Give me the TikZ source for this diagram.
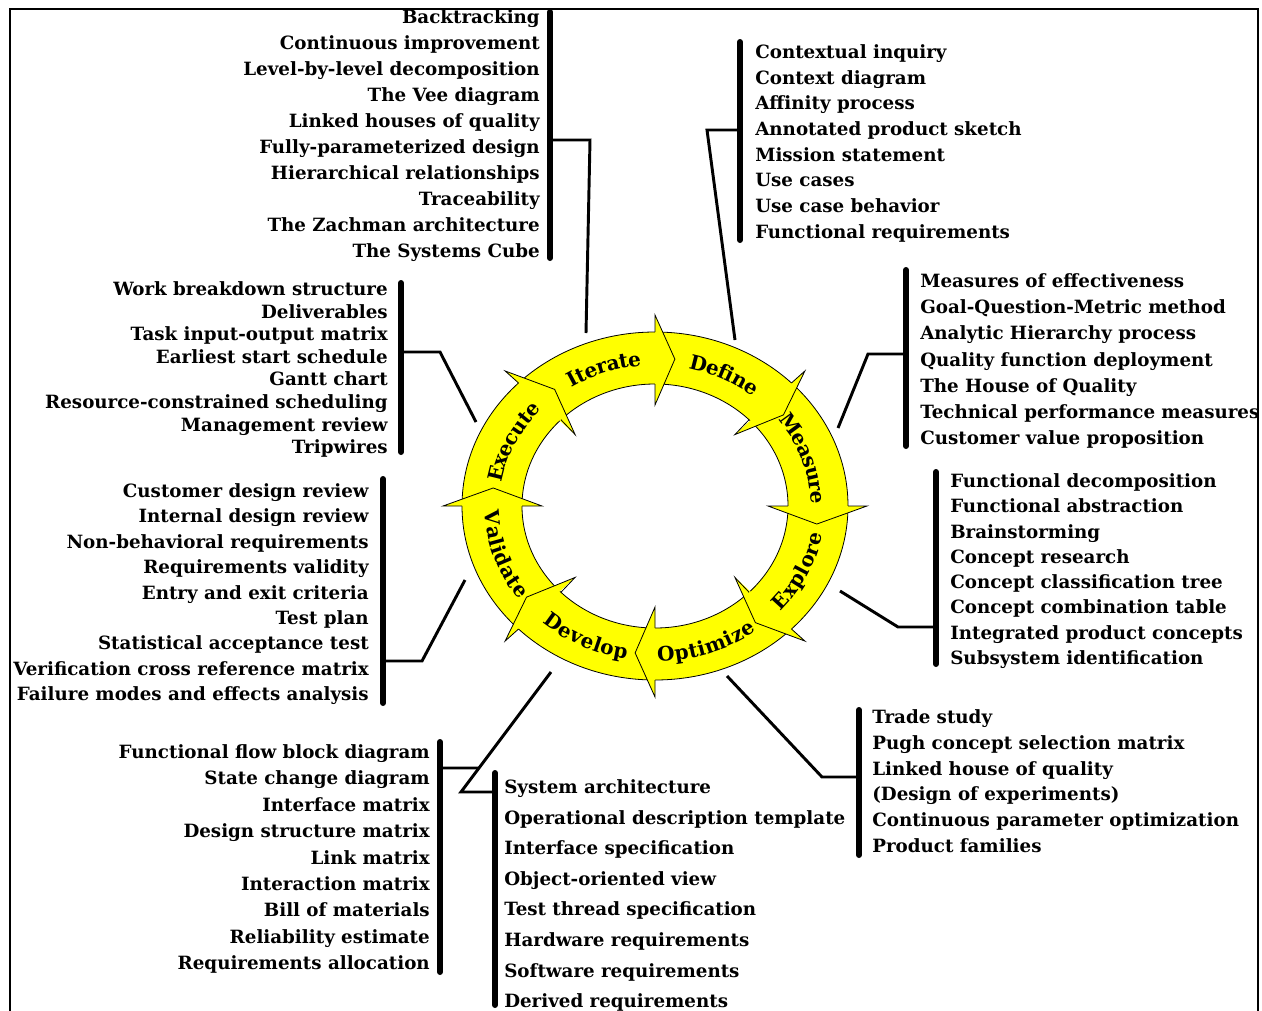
\documentclass[tikz,border=0pt]{standalone}
\usepackage{fontspec}
\setmainfont{DejaVu Serif}
\usetikzlibrary{decorations.text, calc}

\definecolor{ringyellow}{HTML}{FFFF00}
\newcommand{\ringfont}{\fontsize{15}{17}\selectfont\bfseries}
\tikzset{
  tool/.style={font=\fontsize{13.7}{16}\selectfont\bfseries, inner sep=0pt},
  bar/.style={line width=4.5pt, line cap=round},
  link/.style={line width=2.2pt},
  ringline/.style={line width=0.6pt}
}
% one column of tools: prefix, x, first y, step, anchor, items
\newcommand{\toolgroup}[6]{%
  \foreach \t [count=\k] in {#6}
    \node[tool, anchor=#5] (#1\k) at (#2, {-(#3)-(\k-1)*(#4)}) {\t};
}
% label along the ring: text, start angle, end angle
\newcommand{\ringlabel}[3]{%
  \path[decorate, decoration={text along path, text align=center, raise=-5.5pt,
    text={|\ringfont|#1}}]
    (#2:163 and 148) arc[start angle=#2, end angle=#3, x radius=163, y radius=148];
}

\begin{document}
\begin{tikzpicture}[x=0.75pt, y=0.75pt]
  \useasboundingbox (0,0) rectangle (1262,-1010);
  \draw[line width=1.5pt] (10,-1015) -- (10,-9) -- (1258,-9) -- (1258,-1015);

  % the ring
  \begin{scope}[shift={(655,-506)}]
    \filldraw[ringline, fill=ringyellow, even odd rule]
      (0,0) ellipse[x radius=193, y radius=174]
      (0,0) ellipse[x radius=133, y radius=122];
    \foreach \a in {90,45,0,-45,-90,-135,-180,-225} {
      \fill[ringyellow] (\a:212 and 191) -- ({\a-7}:163 and 148) -- (\a:113 and 101) -- cycle;
      \draw[ringline] (\a:193 and 174) -- (\a:212 and 191) -- ({\a-7}:163 and 148)
        -- (\a:113 and 101) -- (\a:133 and 122);
    }
    \ringlabel{Iterate}{139}{79}
    \ringlabel{Define}{94}{34}
    \ringlabel{Measure}{49}{-11}
    \ringlabel{Explore}{-56}{4}
    \ringlabel{Optimize}{-101}{-41}
    \ringlabel{Develop}{-146}{-86}
    \ringlabel{Validate}{-191}{-131}
    \ringlabel{Execute}{184}{124}
  \end{scope}

  % Iterate
  \toolgroup{it}{540}{20}{26}{mid east}{Backtracking, Continuous improvement,
    Level-by-level decomposition, The Vee diagram, Linked houses of quality,
    Fully-parameterized design, Hierarchical relationships, Traceability,
    The Zachman architecture, The Systems Cube}
  \draw[bar] (550,-12) -- (550,-258);
  \coordinate (it-j) at (550,-140);
  \coordinate (it-r) at (586,-333);
  \draw[link] (it-j) -- (590,-140) -- (it-r);

  % Define
  \toolgroup{def}{755}{55}{25.7}{mid west}{Contextual inquiry, Context diagram,
    Affinity process, Annotated product sketch, Mission statement, Use cases,
    Use case behavior, Functional requirements}
  \draw[bar] (740,-42) -- (740,-240);
  \coordinate (def-j) at (740,-130);
  \coordinate (def-r) at (735,-340);
  \draw[link] (def-j) -- (707,-130) -- (def-r);

  % Measure
  \toolgroup{mea}{920}{284}{26.2}{mid west}{Measures of effectiveness,
    Goal-Question-Metric method, Analytic Hierarchy process,
    Quality function deployment, The House of Quality,
    Technical performance measures, Customer value proposition}
  \draw[bar] (906,-270) -- (906,-446);
  \coordinate (mea-j) at (906,-354);
  \coordinate (mea-r) at (838,-428);
  \draw[link] (mea-j) -- (868,-354) -- (mea-r);

  % Explore
  \toolgroup{exp}{950}{484}{25.3}{mid west}{Functional decomposition,
    Functional abstraction, Brainstorming, Concept research,
    Concept classification tree, Concept combination table,
    Integrated product concepts, Subsystem identification}
  \draw[bar] (936,-472) -- (936,-664);
  \coordinate (exp-j) at (936,-627);
  \coordinate (exp-r) at (840,-591);
  \draw[link] (exp-j) -- (898,-627) -- (exp-r);

  % Optimize
  \toolgroup{opt}{872}{720}{25.8}{mid west}{Trade study,
    Pugh concept selection matrix, Linked house of quality,
    (Design of experiments), Continuous parameter optimization, Product families}
  \draw[bar] (859,-710) -- (859,-855);
  \coordinate (opt-j) at (859,-777);
  \coordinate (opt-r) at (727,-676);
  \draw[link] (opt-j) -- (822,-777) -- (opt-r);

  % Develop
  \toolgroup{devr}{504}{790}{30.6}{mid west}{System architecture,
    Operational description template, Interface specification,
    Object-oriented view, Test thread specification, Hardware requirements,
    Software requirements, Derived requirements}
  \draw[bar] (495,-773) -- (495,-1005);
  \toolgroup{devl}{430}{755}{26.4}{mid east}{Functional flow block diagram,
    State change diagram, Interface matrix, Design structure matrix,
    Link matrix, Interaction matrix, Bill of materials, Reliability estimate,
    Requirements allocation}
  \draw[bar] (440,-742) -- (440,-972);
  \coordinate (dev-r) at (551,-672);
  \coordinate (dev-k) at (461,-792);
  \coordinate (devr-j) at (495,-792);
  \coordinate (devl-j) at (440,-768);
  \draw[link] (dev-r) -- (dev-k) -- (devr-j);
  \draw[link] (devl-j) -- ($(dev-r)!0.8!(dev-k)$);

  % Validate
  \toolgroup{val}{369}{494}{25.4}{mid east}{Customer design review,
    Internal design review, Non-behavioral requirements, Requirements validity,
    Entry and exit criteria, Test plan, Statistical acceptance test,
    Verification cross reference matrix, Failure modes and effects analysis}
  \draw[bar] (383,-479) -- (383,-703);
  \coordinate (val-j) at (383,-661);
  \coordinate (val-r) at (465,-580);
  \draw[link] (val-j) -- (422,-661) -- (val-r);

  % Execute
  \toolgroup{exe}{388}{292}{22.6}{mid east}{Work breakdown structure,
    Deliverables, Task input-output matrix, Earliest start schedule,
    Gantt chart, Resource-constrained scheduling, Management review, Tripwires}
  \draw[bar] (401,-283) -- (401,-452);
  \coordinate (exe-j) at (401,-352);
  \coordinate (exe-r) at (476,-422);
  \draw[link] (exe-j) -- (440,-352) -- (exe-r);
\end{tikzpicture}
\end{document}
